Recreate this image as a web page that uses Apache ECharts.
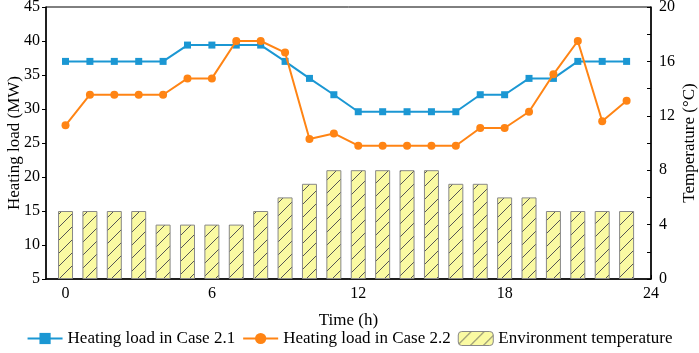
<!DOCTYPE html>
<html>
<head>
<meta charset="utf-8">
<script src="https://cdn.jsdelivr.net/npm/echarts@6/dist/echarts.min.js"></script>
<style>
  html, body { margin: 0; padding: 0; background: #fff; }
  #chart { width: 699px; height: 353px; }
</style>
</head>
<body>
<div id="chart"></div>
<script>
  // hours 0..23
  let hours = [0, 1, 2, 3, 4, 5, 6, 7, 8, 9, 10, 11, 12, 13, 14, 15, 16, 17, 18, 19, 20, 21, 22, 23];
  let loadCase21 = [37, 37, 37, 37, 37, 39.4, 39.4, 39.4, 39.4, 37, 34.5, 32.1, 29.6, 29.6, 29.6, 29.6, 29.6, 32.1, 32.1, 34.5, 34.5, 37, 37, 37];
  let loadCase22 = [27.6, 32.1, 32.1, 32.1, 32.1, 34.5, 34.5, 40, 40, 38.3, 25.6, 26.4, 24.6, 24.6, 24.6, 24.6, 24.6, 27.2, 27.2, 29.6, 35.1, 40, 28.2, 31.2];
  let envTemp = [5, 5, 5, 5, 4, 4, 4, 4, 5, 6, 7, 8, 8, 8, 8, 8, 7, 7, 6, 6, 5, 5, 5, 5];
  let timeLabels = [0, 6, 12, 18, 24];

  // hatch pattern for the temperature bars
  function hatch() {
    let c = document.createElement('canvas');
    c.width = 13;
    c.height = 13;
    let ctx = c.getContext('2d');
    ctx.fillStyle = '#fafaa2';
    ctx.fillRect(0, 0, 13, 13);
    ctx.strokeStyle = '#555';
    ctx.lineWidth = 1;
    ctx.beginPath();
    ctx.moveTo(-1, 14);
    ctx.lineTo(14, -1);
    ctx.stroke();
    return c;
  }

  let font = 'Liberation Serif';
  let chart = echarts.init(document.getElementById('chart'));
  chart.setOption({
    animation: false,
    textStyle: { fontFamily: font },
    grid: {
      left: 46, right: 48, top: 7, bottom: 74,
      containLabel: false,
      outerBoundsMode: 'none',
      show: true, borderColor: '#000', borderWidth: 1
    },
    legend: {
      bottom: 1,
      left: 'center',
      itemGap: 7,
      itemWidth: 35,
      itemHeight: 14,
      textStyle: { fontFamily: font, fontSize: 17, color: '#000' },
      data: [
        { name: 'Heating load in Case 2.1' },
        { name: 'Heating load in Case 2.2' },
        { name: 'Environment temperature', itemStyle: { borderColor: '#888', borderWidth: 1 } }
      ]
    },
    xAxis: {
      type: 'value',
      min: -0.8,
      max: 24,
      name: 'Time (h)',
      nameLocation: 'middle',
      nameGap: 33,
      nameMoveOverlap: false,
      nameTextStyle: { fontFamily: font, fontSize: 17, color: '#000' },
      axisLine: { onZero: false, lineStyle: { color: '#000', width: 1.5 } },
      axisTick: {
        inside: true, length: 4,
        lineStyle: { color: '#000' },
        customValues: hours.concat([24])
      },
      axisLabel: {
        customValues: timeLabels,
        fontFamily: font, fontSize: 16, color: '#000', margin: 7
      },
      splitLine: { show: false }
    },
    yAxis: [
      {
        type: 'value',
        min: 5, max: 45, interval: 5,
        name: 'Heating load (MW)',
        nameLocation: 'middle',
        nameGap: 23,
        nameMoveOverlap: false,
        nameTextStyle: { fontFamily: font, fontSize: 17, color: '#000' },
        axisLine: { show: true, onZero: false, lineStyle: { color: '#000', width: 1.5 } },
        axisTick: { show: true, length: 4, lineStyle: { color: '#000' } },
        axisLabel: { fontFamily: font, fontSize: 16, color: '#000', margin: 6 },
        splitLine: { show: false }
      },
      {
        type: 'value',
        min: 0, max: 20, interval: 4,
        name: 'Temperature (°C)',
        nameLocation: 'middle',
        nameGap: 30,
        nameRotate: 90,
        nameMoveOverlap: false,
        nameTextStyle: { fontFamily: font, fontSize: 17, color: '#000' },
        axisLine: { show: true, onZero: false, lineStyle: { color: '#000', width: 1.5 } },
        axisTick: { show: true, inside: true, length: 4, lineStyle: { color: '#000' } },
        minorTick: { show: true, splitNumber: 2, length: 4, lineStyle: { color: '#000' } },
        axisLabel: { fontFamily: font, fontSize: 16, color: '#000', margin: 8 },
        splitLine: { show: false }
      }
    ],
    series: [
      {
        name: 'Environment temperature',
        type: 'bar',
        yAxisIndex: 1,
        barWidth: 15,
        z: 1,
        data: hours.map((h, i) => [h, envTemp[i]]),
        itemStyle: {
          color: { image: hatch(), repeat: 'repeat' },
          borderColor: '#888',
          borderWidth: 1
        }
      },
      {
        name: 'Heating load in Case 2.1',
        type: 'line',
        yAxisIndex: 0,
        z: 3,
        symbol: 'rect',
        symbolSize: 7,
        data: hours.map((h, i) => [h, loadCase21[i]]),
        lineStyle: { color: '#1b97d3', width: 2 },
        itemStyle: { color: '#1b97d3' }
      },
      {
        name: 'Heating load in Case 2.2',
        type: 'line',
        yAxisIndex: 0,
        z: 4,
        symbol: 'circle',
        symbolSize: 8,
        data: hours.map((h, i) => [h, loadCase22[i]]),
        lineStyle: { color: '#ff8414', width: 2 },
        itemStyle: { color: '#ff8414' }
      }
    ]
  });
</script>
</body>
</html>
